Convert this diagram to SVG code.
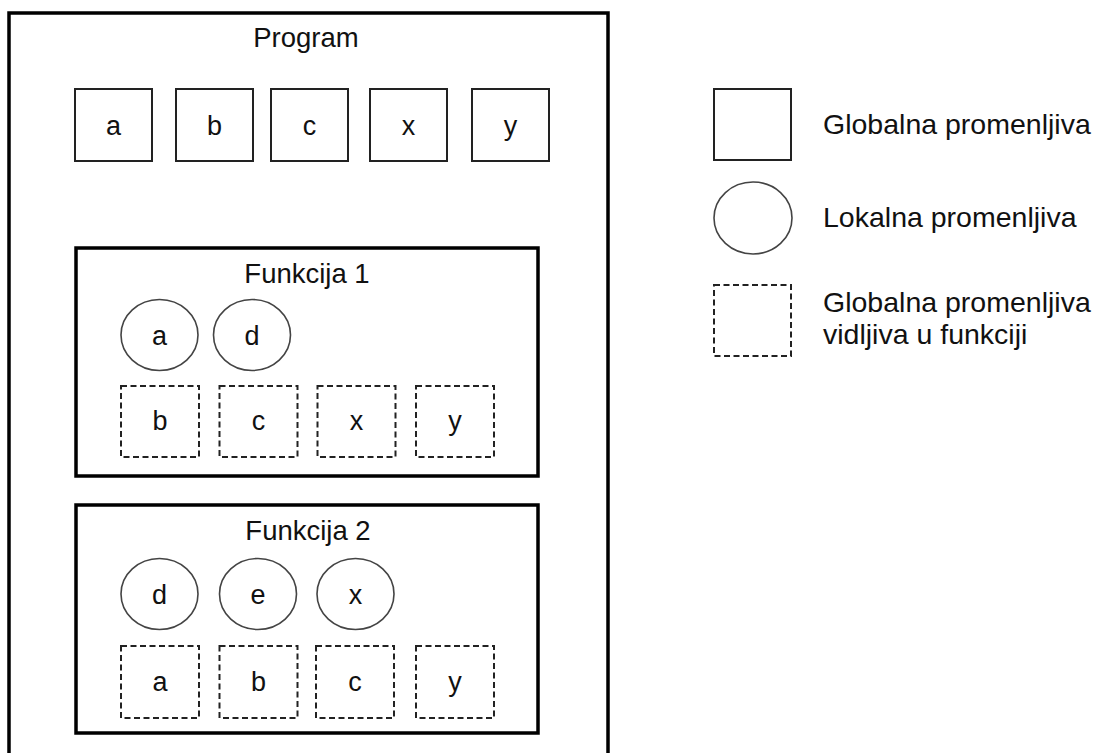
<svg xmlns="http://www.w3.org/2000/svg" width="1102" height="753" viewBox="0 0 1102 753">
<style>
text{font-family:"Liberation Sans",Arial,sans-serif;fill:#111;}
.t{font-size:27.5px;text-anchor:middle;}
.lbl{font-size:27px;text-anchor:middle;}
.leg{font-size:28.5px;}
.frame{fill:none;stroke:#000;stroke-width:3.5;}
.box{fill:#fff;stroke:#222;stroke-width:2;}
.dash{fill:#fff;stroke:#222;stroke-width:2;stroke-dasharray:6 3.5;}
.circ{fill:#fff;stroke:#444;stroke-width:1.6;}
</style>
<rect width="1102" height="753" fill="#fff"/>
<g id="program">
<rect class="frame" x="9" y="13" width="599" height="770"/>
<text class="t" x="306" y="47">Program</text>
</g>
<g id="global-a"><rect class="box" x="75" y="89" width="77" height="72"/><text class="lbl" x="113.5" y="135">a</text></g>
<g id="global-b"><rect class="box" x="176" y="89" width="77" height="72"/><text class="lbl" x="214.5" y="135">b</text></g>
<g id="global-c"><rect class="box" x="271" y="89" width="77" height="72"/><text class="lbl" x="309.5" y="135">c</text></g>
<g id="global-x"><rect class="box" x="370" y="89" width="77" height="72"/><text class="lbl" x="408.5" y="135">x</text></g>
<g id="global-y"><rect class="box" x="472" y="89" width="77" height="72"/><text class="lbl" x="510.5" y="135">y</text></g>

<g id="funkcija1">
<rect class="frame" x="76" y="248" width="462" height="228"/>
<text class="t" x="307" y="283">Funkcija 1</text>
</g>
<g id="f1-local-a"><ellipse class="circ" cx="159.5" cy="335" rx="38.5" ry="35.5"/><text class="lbl" x="159.5" y="345">a</text></g>
<g id="f1-local-d"><ellipse class="circ" cx="252" cy="335" rx="38.5" ry="35.5"/><text class="lbl" x="252" y="345">d</text></g>
<g id="f1-vis-b"><rect class="dash" x="121" y="386" width="78" height="71"/><text class="lbl" x="160" y="430">b</text></g>
<g id="f1-vis-c"><rect class="dash" x="219.5" y="386" width="78" height="71"/><text class="lbl" x="258.5" y="430">c</text></g>
<g id="f1-vis-x"><rect class="dash" x="317.5" y="386" width="78" height="71"/><text class="lbl" x="356.5" y="430">x</text></g>
<g id="f1-vis-y"><rect class="dash" x="416" y="386" width="78" height="71"/><text class="lbl" x="455" y="430">y</text></g>

<g id="funkcija2">
<rect class="frame" x="76" y="505" width="462" height="228"/>
<text class="t" x="308" y="540">Funkcija 2</text>
</g>
<g id="f2-local-d"><ellipse class="circ" cx="159.5" cy="594" rx="38.5" ry="35.5"/><text class="lbl" x="159.5" y="604">d</text></g>
<g id="f2-local-e"><ellipse class="circ" cx="258" cy="594" rx="38.5" ry="35.5"/><text class="lbl" x="258" y="604">e</text></g>
<g id="f2-local-x"><ellipse class="circ" cx="355.5" cy="594" rx="38.5" ry="35.5"/><text class="lbl" x="355.5" y="604">x</text></g>
<g id="f2-vis-a"><rect class="dash" x="121" y="646" width="78" height="72"/><text class="lbl" x="160" y="691">a</text></g>
<g id="f2-vis-b"><rect class="dash" x="219.5" y="646" width="78" height="72"/><text class="lbl" x="258.5" y="691">b</text></g>
<g id="f2-vis-c"><rect class="dash" x="316" y="646" width="78" height="72"/><text class="lbl" x="355" y="691">c</text></g>
<g id="f2-vis-y"><rect class="dash" x="416" y="646" width="78" height="72"/><text class="lbl" x="455" y="691">y</text></g>

<g id="legend-global"><rect class="box" x="714" y="89" width="77" height="71"/><text class="leg" x="823" y="134">Globalna promenljiva</text></g>
<g id="legend-local"><ellipse class="circ" cx="753" cy="218" rx="39" ry="36"/><text class="leg" x="823" y="227">Lokalna promenljiva</text></g>
<g id="legend-visible"><rect class="dash" x="714" y="285" width="77" height="71"/><text class="leg" x="823" y="312">Globalna promenljiva</text><text class="leg" x="823" y="344">vidljiva u funkciji</text></g>
<g id="connectors"/>
</svg>
